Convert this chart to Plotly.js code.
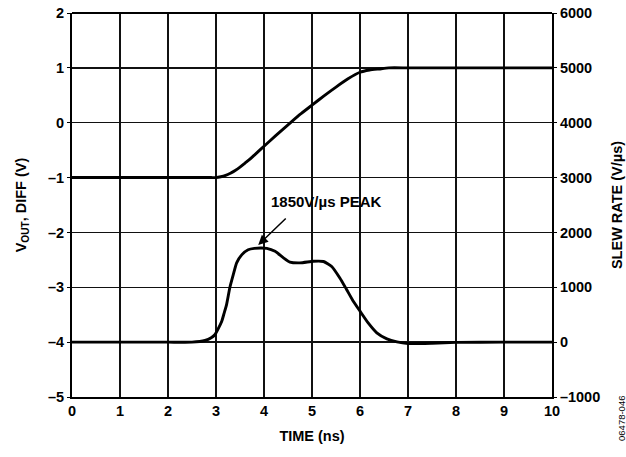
<!DOCTYPE html>
<html>
<head>
<meta charset="utf-8">
<script src="https://cdn.plot.ly/plotly-3.0.1.min.js"></script>
<style>html,body{margin:0;padding:0;background:#fff;}#chart{width:626px;height:457px;}</style>
</head>
<body>
<div id="chart"></div>
<script>
// Time axis (ns) and output voltage (V)
var timeVout = [0, 1, 2, 2.9, 3.0, 3.1, 3.2, 3.3, 3.4, 3.5, 3.6, 3.7, 3.8, 3.9, 4.0, 4.25, 4.5, 4.75, 5.0, 5.25, 5.5, 5.75, 6.0, 6.2, 6.4, 6.6, 7, 8, 9, 10];
var vout = [-1, -1, -1, -1, -1, -0.985, -0.96, -0.92, -0.87, -0.81, -0.74, -0.67, -0.59, -0.51, -0.43, -0.23, -0.04, 0.15, 0.32, 0.49, 0.65, 0.80, 0.92, 0.96, 0.98, 1.0, 1.0, 1.0, 1.0, 1.0];

// Time axis (ns) and slew rate (V/µs)
var timeSlew = [0, 1, 2, 2.5, 2.77, 2.9, 2.98, 3.05, 3.12, 3.17, 3.22, 3.29, 3.36, 3.43, 3.54, 3.67, 3.8, 3.95, 4.06, 4.23, 4.4, 4.54, 4.75, 5.03, 5.24, 5.41, 5.58, 5.72, 5.86, 6.0, 6.17, 6.35, 6.56, 6.77, 7.0, 7.5, 8, 9, 10];
var slewRate = [0, 0, 0, 0, 30, 80, 140, 250, 380, 530, 685, 1000, 1230, 1445, 1595, 1685, 1710, 1715, 1710, 1655, 1540, 1460, 1445, 1475, 1470, 1380, 1170, 960, 745, 565, 350, 170, 60, 5, -25, -20, -5, 0, 0];

// Tick values
var xTicks = [0, 1, 2, 3, 4, 5, 6, 7, 8, 9, 10];
var yLeftTicks = [-5, -4, -3, -2, -1, 0, 1, 2];
var yRightTicks = [-1000, 0, 1000, 2000, 3000, 4000, 5000, 6000];

// Annotation
var peakLabel = "1850V/µs PEAK";
var peakPoint = {x: 3.88, y: -2.23};
var labelPoint = {x: 5.31, y: -1.43};

var fontFam = "Arial, 'Liberation Sans', sans-serif";
var tickFont = {family: fontFam, size: 14.5, color: "#000"};
function fmt(v) { return "<b>" + (v < 0 ? "\u2013" + Math.abs(v) : String(v)) + "</b>"; }

var traces = [
  {x: timeVout, y: vout, type: "scatter", mode: "lines", yaxis: "y",
   line: {color: "#000", width: 2.9, shape: "spline", smoothing: 0.5}, hoverinfo: "skip"},
  {x: timeSlew, y: slewRate, type: "scatter", mode: "lines", yaxis: "y2",
   line: {color: "#000", width: 2.9, shape: "spline", smoothing: 0.5}, hoverinfo: "skip"}
];

var layout = {
  width: 626, height: 457,
  margin: {l: 72, r: 74, t: 13, b: 60},
  paper_bgcolor: "#fff", plot_bgcolor: "#fff",
  showlegend: false,
  font: {family: fontFam, color: "#000"},
  xaxis: {
    range: [0, 10], tickvals: xTicks, ticktext: xTicks.map(fmt),
    showgrid: true, gridcolor: "#111", gridwidth: 1.3,
    showline: true, linecolor: "#000", linewidth: 2, mirror: false,
    zeroline: false, ticks: "", tickfont: tickFont,
    title: {text: "<b>TIME (ns)</b>", font: {family: fontFam, size: 14.5}, standoff: 12}
  },
  yaxis: {
    range: [-5, 2], tickvals: yLeftTicks, ticktext: yLeftTicks.map(fmt),
    showgrid: true, gridcolor: "#111", gridwidth: 1.3,
    showline: true, linecolor: "#000", linewidth: 2,
    zeroline: false, ticks: "outside", ticklen: 3, tickcolor: "#000", tickfont: tickFont,
    title: {text: "<b>V<sub>OUT</sub>, DIFF (V)</b>", font: {family: fontFam, size: 14.5}, standoff: 18}
  },
  yaxis2: {
    range: [-1000, 6000], tickvals: yRightTicks, ticktext: yRightTicks.map(fmt),
    overlaying: "y", side: "right",
    showgrid: false, showline: true, linecolor: "#000", linewidth: 2,
    zeroline: false, ticks: "outside", ticklen: 3, tickcolor: "#000", tickfont: tickFont,
    title: {text: "<b>SLEW RATE (V/µs)</b>", font: {family: fontFam, size: 14.5}, standoff: 13}
  },
  shapes: [
    {type: "line", xref: "paper", yref: "paper", x0: 0, x1: 1, y0: 1, y1: 1, line: {color: "#000", width: 2}}
  ],
  annotations: [
    {x: labelPoint.x, y: labelPoint.y, xref: "x", yref: "y", text: "<b>" + peakLabel + "</b>", showarrow: false,
     font: {family: fontFam, size: 15, color: "#000"}},
    {x: peakPoint.x, y: peakPoint.y, xref: "x", yref: "y", text: "", showarrow: true,
     ax: 29, ay: -28, arrowhead: 2, arrowsize: 1.3, arrowwidth: 1.5, arrowcolor: "#000"},
    {x: 1.146, y: -0.057, xref: "paper", yref: "paper", xanchor: "center", yanchor: "middle",
     text: "06478-046", showarrow: false, textangle: -90,
     font: {family: fontFam, size: 9.5, color: "#000"}}
  ]
};

Plotly.newPlot("chart", traces, layout, {staticPlot: true, displayModeBar: false});
</script>
</body>
</html>
